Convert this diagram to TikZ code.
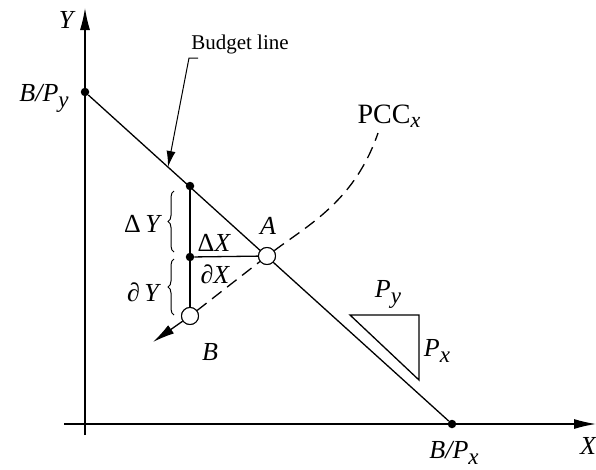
\documentclass[tikz,border=0pt]{standalone}
\usepackage{fontspec}
\setmainfont{Liberation Serif}
\usetikzlibrary{arrows.meta,decorations.pathreplacing}
\newcommand{\lbl}{\fontsize{26}{27}\selectfont\itshape}
\newcommand{\subsc}[1]{\raisebox{-0.5ex}{\fontsize{23}{23}\selectfont\itshape #1}}
\begin{document}
\begin{tikzpicture}[x=1pt,y=-1pt,
  ln/.style={line width=1.3pt,black},
  dot/.style={circle,fill=black,inner sep=0pt,minimum size=8.5pt},
  hole/.style={circle,draw=black,fill=white,line width=1pt,inner sep=0pt,minimum size=17pt},
  txt/.style={inner sep=0pt,font=\lbl},
  arr/.style={-{Latex[length=22pt,width=10pt]}},
  brc/.style={decorate,decoration={brace,amplitude=6pt},line width=1pt}]
\useasboundingbox (0,0) rectangle (596,469);
% axes
\coordinate (yb) at (85,435);
\coordinate (yt) at (85,8);
\coordinate (xl) at (64,424);
\coordinate (xr) at (596,424);
\draw[ln,arr] (yb) -- (yt);
\draw[ln,arr] (xl) -- (xr);
\node[txt] (ylab) at (66,20) {Y};
\node[txt] (xlab) at (588,446) {X};
% budget line
\node[dot] (by) at (85,92) {};
\node[dot] (bx) at (452,424) {};
\draw[ln] (by) -- (bx);
\node[txt] (bylab) at (44,98) {B/P\subsc{y}};
\node[txt] (bxlab) at (454,453) {B/P\subsc{x}};
% points
\node[dot] (top) at (190,186) {};
\node[dot] (mid) at (190,257) {};
\node[hole] (A) at (267,256) {};
\node[hole] (B) at (190,316) {};
\draw[ln] (top) -- (B);
\draw[ln] (mid) -- (A);
% PCC
\coordinate (pcc) at (378,133);
\draw[ln,dashed,dash pattern=on 12pt off 7pt] (B) -- (A) .. controls (310,224) and (355,200) .. (pcc);
\node[hole] at (A) {};
\node[hole] at (B) {};
\node[inner sep=0pt,font=\fontsize{28}{28}\selectfont] (pcclab) at (389,116) {PCC\raisebox{-0.35ex}{\fontsize{22}{22}\selectfont\itshape x}};
\coordinate (bend) at (153,342);
\draw[ln,arr] (B) -- (bend);
\node[txt] (Alab) at (268,226) {A};
\node[txt] (Blab) at (210,352) {B};
% braces
\draw[brc] (174,252) -- (174,191);
\draw[brc] (174,315) -- (174,259);
\node[txt] (dY) at (142,224) {{\upshape Δ}\,Y};
\node[txt] (pY) at (143,292) {{\upshape ∂}\,Y};
\node[txt] (dX) at (214,243) {{\upshape Δ}X};
\node[txt] (pX) at (215,274) {{\upshape ∂}X};
% budget line label
\node[inner sep=0pt,font=\fontsize{21}{21}\selectfont] (bl) at (240,44) {Budget line};
\coordinate (l1) at (198,58);
\coordinate (l2) at (189,58);
\coordinate (l3) at (168,167);
\draw[line width=1pt,-{Latex[length=16pt,width=9pt]}] (l1) -- (l2) -- (l3);
% slope triangle
\coordinate (t1) at (350,315);
\coordinate (t2) at (419,315);
\coordinate (t3) at (419,380);
\draw[ln] (t1) -- (t2) -- (t3) -- cycle;
\node[txt] (py) at (388,294) {P\subsc{y}};
\node[txt] (px) at (437,351) {P\subsc{x}};
\end{tikzpicture}
\end{document}
